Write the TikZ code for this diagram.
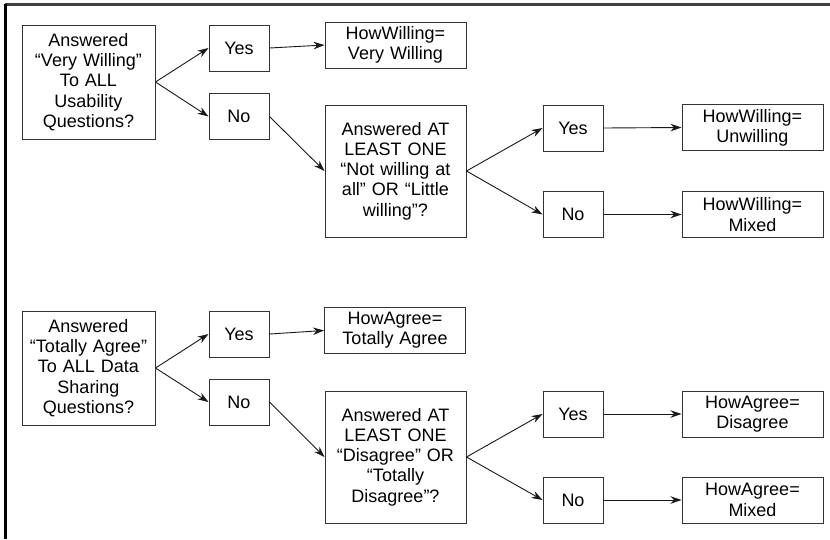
\documentclass[tikz,border=0pt]{standalone}
\usepackage{fontspec}
\setmainfont{Liberation Sans}
\usetikzlibrary{arrows.meta}
\begin{document}
\begin{tikzpicture}[x=1pt,y=-1pt,
  box/.style={draw=black!80,line width=1pt,rectangle,inner sep=0pt,align=center,
    font=\fontsize{18}{20.3}\selectfont},
  qbox/.style={box,minimum width=133pt,minimum height=114pt,text width=128pt},
  ynbox/.style={box,minimum width=60pt,minimum height=46pt},
  rbox/.style={box,minimum width=141pt,minimum height=46pt,text width=136pt},
  q2box/.style={box,minimum width=141pt,minimum height=132pt,text width=136pt},
  conn/.style={draw=black!90,line width=0.9pt,-{Stealth[length=11pt,width=7.5pt]}},
  frame/.style={line width=2.2pt}]
\useasboundingbox (0,0) rectangle (830,539);
\draw[frame,draw=black!75] (5,4.5) -- (830,4.5);
\draw[frame,draw=black] (5.5,4) -- (5.5,539);
% top half
\node[qbox] (a1) at (88.5,82) {Answered\\“Very Willing”\\To ALL\\Usability\\Questions?};
\node[ynbox] (y1) at (239,48) {Yes};
\node[ynbox] (n1) at (239,116.5) {No};
\node[rbox] (r1) at (395.5,45) {HowWilling=\\Very Willing};
\node[q2box] (q2) at (395.5,171) {Answered AT\\LEAST ONE\\“Not willing at\\all” OR “Little\\willing”?};
\node[ynbox] (y2) at (573,128) {Yes};
\node[ynbox] (n2) at (573,214.5) {No};
\node[rbox] (r2) at (752.5,127.5) {HowWilling=\\Unwilling};
\node[rbox] (r3) at (752.5,214.5) {HowWilling=\\Mixed};
\draw[conn] (a1.east) -- (y1.west);
\draw[conn] (a1.east) -- (n1.west);
\draw[conn] (y1.east) -- (r1.west);
\draw[conn] (n1.east) -- (q2.west);
\draw[conn] (q2.east) -- (y2.west);
\draw[conn] (q2.east) -- (n2.west);
\draw[conn] (y2.east) -- (r2.west);
\draw[conn] (n2.east) -- (r3.west);
% bottom half
\node[qbox] (a2) at (88.5,368) {Answered\\“Totally Agree”\\To ALL Data\\Sharing\\Questions?};
\node[ynbox] (y3) at (239,334) {Yes};
\node[ynbox] (n3) at (239,402) {No};
\node[rbox] (r4) at (395,330.5) {HowAgree=\\Totally Agree};
\node[q2box] (q4) at (395.5,457) {Answered AT\\LEAST ONE\\“Disagree” OR\\“Totally\\Disagree”?};
\node[ynbox] (y4) at (573,414) {Yes};
\node[ynbox] (n4) at (573,500) {No};
\node[rbox] (r5) at (752.5,414) {HowAgree=\\Disagree};
\node[rbox] (r6) at (752.5,500) {HowAgree=\\Mixed};
\draw[conn] (a2.east) -- (y3.west);
\draw[conn] (a2.east) -- (n3.west);
\draw[conn] (y3.east) -- (r4.west);
\draw[conn] (n3.east) -- (q4.west);
\draw[conn] (q4.east) -- (y4.west);
\draw[conn] (q4.east) -- (n4.west);
\draw[conn] (y4.east) -- (r5.west);
\draw[conn] (n4.east) -- (r6.west);
\end{tikzpicture}
\end{document}
